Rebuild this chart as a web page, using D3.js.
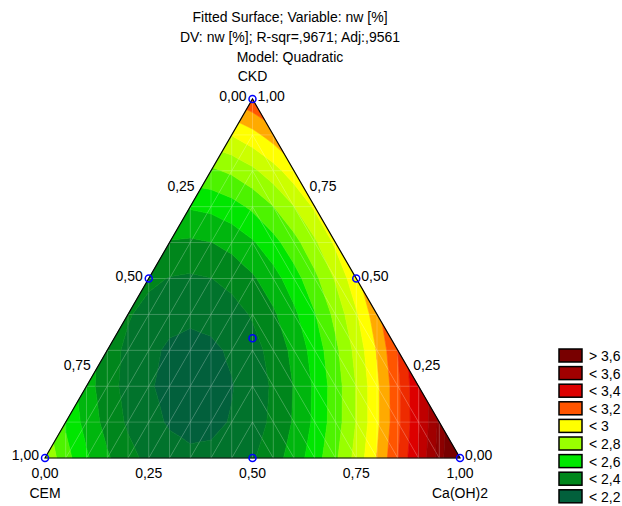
<!DOCTYPE html>
<html>
<head>
<meta charset="utf-8">
<script src="https://cdn.jsdelivr.net/npm/d3@7"></script>
<style>
  body { margin: 0; background: #fff; }
  text { font-family: "Liberation Sans", Arial, sans-serif; font-size: 14px; fill: #000; }
</style>
</head>
<body>
<svg id="chart" width="622" height="506"></svg>
<script>
// fitted quadratic (Scheffe) coefficients: CEM, CKD, CaOH, CEM*CKD, CEM*CaOH, CKD*CaOH
const COEFS = [2.78, 3.18, 3.90, -2.62, -4.20, -2.28];

// contour levels of the fitted surface and legend
const LEVELS = [2.2, 2.3, 2.4, 2.5, 2.6, 2.7, 2.8, 2.9, 3.0, 3.1, 3.2, 3.3, 3.4, 3.5, 3.6, 3.7];
const LEGEND_LABELS = ["< 2,2", "< 2,4", "< 2,6", "< 2,8", "< 3", "< 3,2", "< 3,4", "< 3,6", "> 3,6"];
const LEGEND_COLORS = ["#02603c", "#00861c", "#00e600", "#99ff00", "#ffff00", "#ff5500", "#dd0000", "#a00000", "#780000"];

// axis ticks and design points (CEM, CKD, CaOH)
const TICKS = [0, 0.25, 0.5, 0.75, 1];
const DESIGN = [[1, 0, 0], [0, 1, 0], [0, 0, 1], [0.5, 0.5, 0], [0.5, 0, 0.5], [0, 0.5, 0.5], [1 / 3, 1 / 3, 1 / 3]];
const TITLE = ["Fitted Surface; Variable: nw [%]", "DV: nw [%]; R-sqr=,9671; Adj:,9561", "Model: Quadratic"];

// mesh resolution used for the surface
const COLS = 20, ROWS = 10;

const svg = d3.select("#chart");
const fmt = v => d3.format(".2f")(v).replace(".", ",");

const xScale = d3.scaleLinear().domain([0, 1]).range([45, 460]);
const yScale = d3.scaleLinear().domain([0, 1]).range([458, 99]);

// barycentric (cem, ckd, caoh) -> pixel
function project(cem, ckd, caoh) {
  return [xScale(caoh + ckd / 2), yScale(ckd)];
}

function model(cem, ckd, caoh) {
  const b = COEFS;
  return b[0] * cem + b[1] * ckd + b[2] * caoh +
    b[3] * cem * ckd + b[4] * cem * caoh + b[5] * ckd * caoh;
}

// band colours: legend colours on every other band, blends between
function bandColor(k) {
  if (k === 0) return LEGEND_COLORS[0];
  if (k > LEVELS.length - 1) return LEGEND_COLORS[LEGEND_COLORS.length - 1];
  const n = k - 1;
  if (n % 2 === 1) return LEGEND_COLORS[(n + 1) / 2];
  return d3.interpolateRgb(LEGEND_COLORS[n / 2], LEGEND_COLORS[n / 2 + 1])(0.5);
}

// mesh nodes
function node(i, j) {
  if (j < 0 || j > ROWS || i < j || i > COLS - j) return null;
  const ckd = j / ROWS, caoh = (i - j) / COLS, cem = 1 - ckd - caoh;
  const [x, y] = project(cem, ckd, caoh);
  return { x, y, f: model(cem, ckd, caoh), key: i + "_" + j };
}

const triangles = [];
for (let j = 0; j < ROWS; j++) {
  for (let i = 0; i < COLS; i++) {
    let tris;
    if (i < COLS / 2) {
      tris = [[[i, j], [i + 1, j], [i + 1, j + 1]], [[i, j], [i + 1, j + 1], [i, j + 1]]];
    } else {
      tris = [[[i, j], [i + 1, j], [i, j + 1]], [[i + 1, j], [i + 1, j + 1], [i, j + 1]]];
    }
    tris.forEach(t => {
      const pts = t.map(p => node(p[0], p[1]));
      if (pts.every(p => p)) triangles.push(pts);
    });
  }
}

function clip(poly, level, above) {
  const out = [];
  for (let k = 0; k < poly.length; k++) {
    const a = poly[k], b = poly[(k + 1) % poly.length];
    const ina = above ? a.f >= level : a.f <= level;
    const inb = above ? b.f >= level : b.f <= level;
    if (ina) out.push(a);
    if (ina !== inb) {
      const t = (level - a.f) / (b.f - a.f);
      out.push({ x: a.x + t * (b.x - a.x), y: a.y + t * (b.y - a.y), f: level });
    }
  }
  return out;
}

const pieces = [];
triangles.forEach(tri => {
  for (let k = 0; k <= LEVELS.length; k++) {
    let poly = tri;
    if (k > 0) poly = clip(poly, LEVELS[k - 1], true);
    if (poly.length > 2 && k < LEVELS.length) poly = clip(poly, LEVELS[k], false);
    if (poly.length > 2) pieces.push({ poly, color: bandColor(k) });
  }
});

svg.append("g").attr("class", "bands")
  .selectAll("path")
  .data(pieces)
  .join("path")
  .attr("d", d => "M" + d.poly.map(p => p.x + "," + p.y).join("L") + "Z")
  .attr("fill", d => d.color)
  .attr("stroke", d => d.color)
  .attr("stroke-width", 0.6);

// faint mesh lines
const edges = new Map();
triangles.forEach(tri => {
  for (let k = 0; k < 3; k++) {
    const a = tri[k], b = tri[(k + 1) % 3];
    const key = [a.key, b.key].sort().join("|");
    edges.set(key, [a, b]);
  }
});
svg.append("path")
  .attr("d", Array.from(edges.values()).map(([a, b]) => `M${a.x},${a.y}L${b.x},${b.y}`).join(""))
  .attr("fill", "none")
  .attr("stroke", "#fff")
  .attr("stroke-opacity", 0.25)
  .attr("stroke-width", 0.8);

// triangle outline
const A = project(1, 0, 0), B = project(0, 1, 0), C = project(0, 0, 1);
svg.append("path")
  .attr("d", `M${A}L${B}L${C}Z`)
  .attr("fill", "none")
  .attr("stroke", "#000")
  .attr("stroke-width", 1.2);

// titles
svg.append("g").selectAll("text")
  .data(TITLE)
  .join("text")
  .attr("x", 290)
  .attr("y", (d, i) => 22 + i * 20)
  .attr("text-anchor", "middle")
  .text(d => d);

// axis labels
svg.append("text").attr("x", B[0]).attr("y", 81).attr("text-anchor", "middle").text("CKD");
svg.append("text").attr("x", A[0]).attr("y", 498).attr("text-anchor", "middle").text("CEM");
svg.append("text").attr("x", C[0]).attr("y", 498).attr("text-anchor", "middle").text("Ca(OH)2");

// left edge: CEM values, right edge: CKD values, bottom: CaOH values
const ticks = svg.append("g").attr("class", "ticks");
TICKS.forEach(t => {
  const pl = project(t, 1 - t, 0);
  ticks.append("text").attr("x", pl[0] - 6).attr("y", pl[1] + 2).attr("text-anchor", "end").text(fmt(t));
  const pr = project(0, t, 1 - t);
  ticks.append("text").attr("x", pr[0] + 5).attr("y", pr[1] + 2).attr("text-anchor", "start").text(fmt(t));
  const pb = project(1 - t, 0, t);
  ticks.append("text").attr("x", pb[0]).attr("y", 478).attr("text-anchor", "middle").text(fmt(t));
});

// design points
svg.append("g").selectAll("circle")
  .data(DESIGN)
  .join("circle")
  .attr("cx", d => project(...d)[0])
  .attr("cy", d => project(...d)[1])
  .attr("r", 3.5)
  .attr("fill", "none")
  .attr("stroke", "#0000ff")
  .attr("stroke-width", 1.5);

// legend
const legendRows = LEGEND_LABELS.map((l, i) => ({ label: l, color: LEGEND_COLORS[i] })).reverse();
const legend = svg.append("g").attr("class", "legend")
  .selectAll("g")
  .data(legendRows)
  .join("g")
  .attr("transform", (d, i) => `translate(559, ${349 + i * 17.6})`);
legend.append("rect")
  .attr("width", 23)
  .attr("height", 13)
  .attr("fill", d => d.color)
  .attr("stroke", "#000")
  .attr("stroke-width", 1.5);
legend.append("text")
  .attr("x", 30)
  .attr("y", 12)
  .text(d => d.label);
</script>
</body>
</html>
